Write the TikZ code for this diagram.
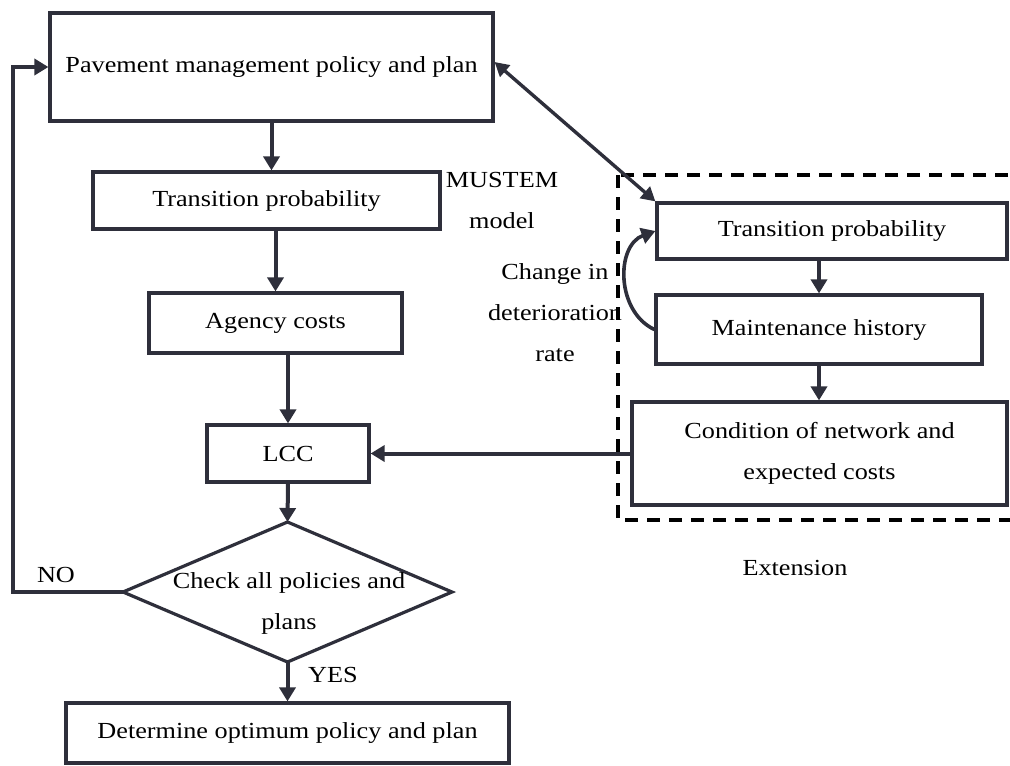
\documentclass[tikz,border=0pt]{standalone}
\usepackage{fontspec}
\setmainfont{Liberation Serif}[FakeStretch=1.14]
\usetikzlibrary{arrows.meta,calc}
\definecolor{linec}{HTML}{2E2F3B}
\begin{document}
\begin{tikzpicture}[x=1pt,y=-1pt,
  txt/.style={font=\fontsize{23}{41}\selectfont, align=center, inner sep=0pt, text=black},
  box/.style={txt, draw=linec, line width=3.2pt, rectangle},
  arr/.style={draw=linec, line width=4pt, -{Triangle[length=14pt,width=16pt]}},
  link/.style={draw=linec, line width=4pt},
  frame/.style={draw=black, line width=4pt, dash pattern=on 13pt off 9pt}]
\useasboundingbox (0,0) rectangle (1010,766);

% main flow
\node[box, minimum width=443pt, minimum height=108pt] (pmp) at (271.5,67) {Pavement management policy and plan};
\node[box, minimum width=347pt, minimum height=57pt] (tpl) at (266.5,200.5) {Transition probability};
\node[box, minimum width=253pt, minimum height=60pt] (ac) at (275.5,323) {Agency costs};
\node[box, minimum width=162pt, minimum height=57pt] (lcc) at (288,453.5) {LCC};
\node[box, minimum width=443pt, minimum height=60pt] (det) at (287.5,733) {Determine optimum policy and plan};

% decision
\coordinate (diatop) at (287.5,522);
\coordinate (diaright) at (452,592);
\coordinate (diabot) at (287.5,662);
\coordinate (dialeft) at (123,592);
\draw[linec, line width=3.2pt] (diatop) -- (diaright) -- (diabot) -- (dialeft) -- cycle;
\node[txt] (dia) at (289,603) {Check all policies and\\plans};

% extension
\draw[frame] (618,175) rectangle (1040,520);
\node[box, minimum width=350pt, minimum height=56pt] (tpr) at (832,231) {Transition probability};
\node[box, minimum width=326pt, minimum height=69pt] (mh) at (819,329.5) {Maintenance history};
\node[box, minimum width=375pt, minimum height=103pt] (cond) at (819.5,453.5) {Condition of network and\\expected costs};

% labels
\node[txt] (must) at (502,200) {MUSTEM\\model};
\node[txt] (chg) at (555,313) {Change in\\deterioration\\rate};
\node[txt] (ext) at (795,568) {Extension};
\node[txt] (no) at (56,575) {NO};
\node[txt] (yes) at (333,675) {YES};

% connectors
\draw[arr] (pmp.south) -- (pmp.south |- tpl.north);
\draw[arr] (ac.north |- tpl.south) -- (ac.north);
\draw[arr] (lcc.north |- ac.south) -- (lcc.north);
\draw[arr] (lcc.south) -- (diatop);
\draw[arr] (diabot) -- (det.north);
\coordinate (fbk) at (13,592);
\draw[arr] (dialeft) -- (fbk) |- (pmp.west);
\draw[link, line width=3.4pt, {Triangle[length=14pt,width=15pt]}-{Triangle[length=14pt,width=15pt]}] ([yshift=5pt]pmp.east) -- (tpr.north west);
\draw[arr] (mh.north |- tpr.south) -- (mh.north);
\draw[arr] (mh.south) -- (mh.south |- cond.north);
\draw[arr] (cond.west) -- (lcc.east);
\draw[arr, line width=3.6pt] (mh.west) to[out=155, in=200, looseness=1.1] (tpr.west);
\end{tikzpicture}
\end{document}
